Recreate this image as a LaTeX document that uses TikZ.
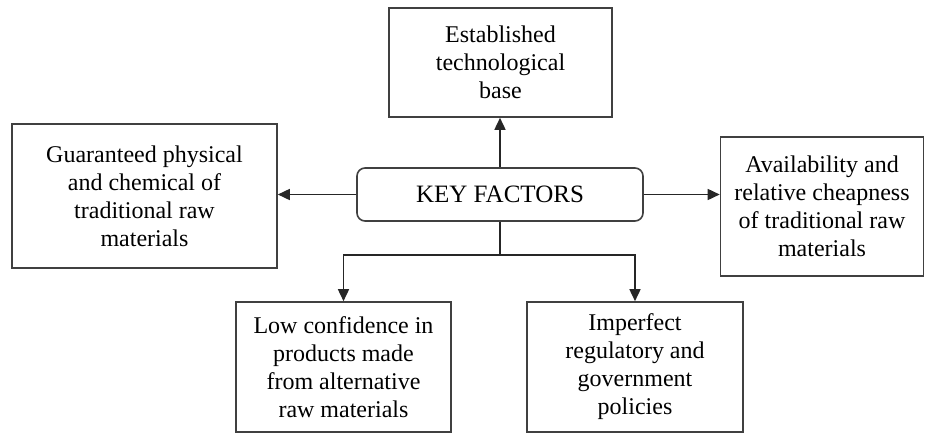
\documentclass[tikz,border=0pt]{standalone}
\usepackage{fontspec}
\setmainfont{Liberation Serif}
\usetikzlibrary{arrows.meta}

\begin{document}
\begin{tikzpicture}
[x=1pt,y=-1pt,
every node/.style={shape=rectangle,draw=black!75,line width=1.6pt,align=center,
  font=\fontsize{24}{28}\selectfont,inner sep=2pt},
factor/.style={minimum width=#1},
keybox/.style={rounded corners=8pt,minimum width=286pt,minimum height=53pt,
  font=\fontsize{25}{28}\selectfont},
arr/.style={draw=black!85,line width=1.6pt,-{Triangle[length=12pt,width=11pt]}}]

\useasboundingbox (0,0) rectangle (932,434);

\node[keybox] (key) at (500,194.5) {KEY FACTORS};

\node[factor=223pt,minimum height=109pt] (tech) at (500.5,62.5)
  {Established\\ technological\\ base};
\node[factor=265pt,minimum height=144pt] (phys) at (144.5,196)
  {Guaranteed physical\\ and chemical of\\ traditional raw\\ materials};
\node[factor=203pt,minimum height=139pt] (avail) at (822,206.5)
  {Availability and\\ relative cheapness\\ of traditional raw\\ materials};
\node[factor=215pt,minimum height=130pt] (conf) at (343.5,367)
  {Low confidence in\\ products made\\ from alternative\\ raw materials};
\node[factor=216pt,minimum height=130pt] (policy) at (635,367)
  {Imperfect\\ regulatory and\\ government\\ policies};

\coordinate (split) at (500,255);

\draw[arr] (key.north) -- (key.north |- tech.south);
\draw[arr] (key.west) -- (key.west -| phys.east);
\draw[arr] (key.east) -- (key.east -| avail.west);
\draw[draw=black!85,line width=1.6pt] (key.south) -- (split);
\draw[arr] (split) -| (conf.north);
\draw[arr] (split) -| (policy.north);
\end{tikzpicture}
\end{document}
